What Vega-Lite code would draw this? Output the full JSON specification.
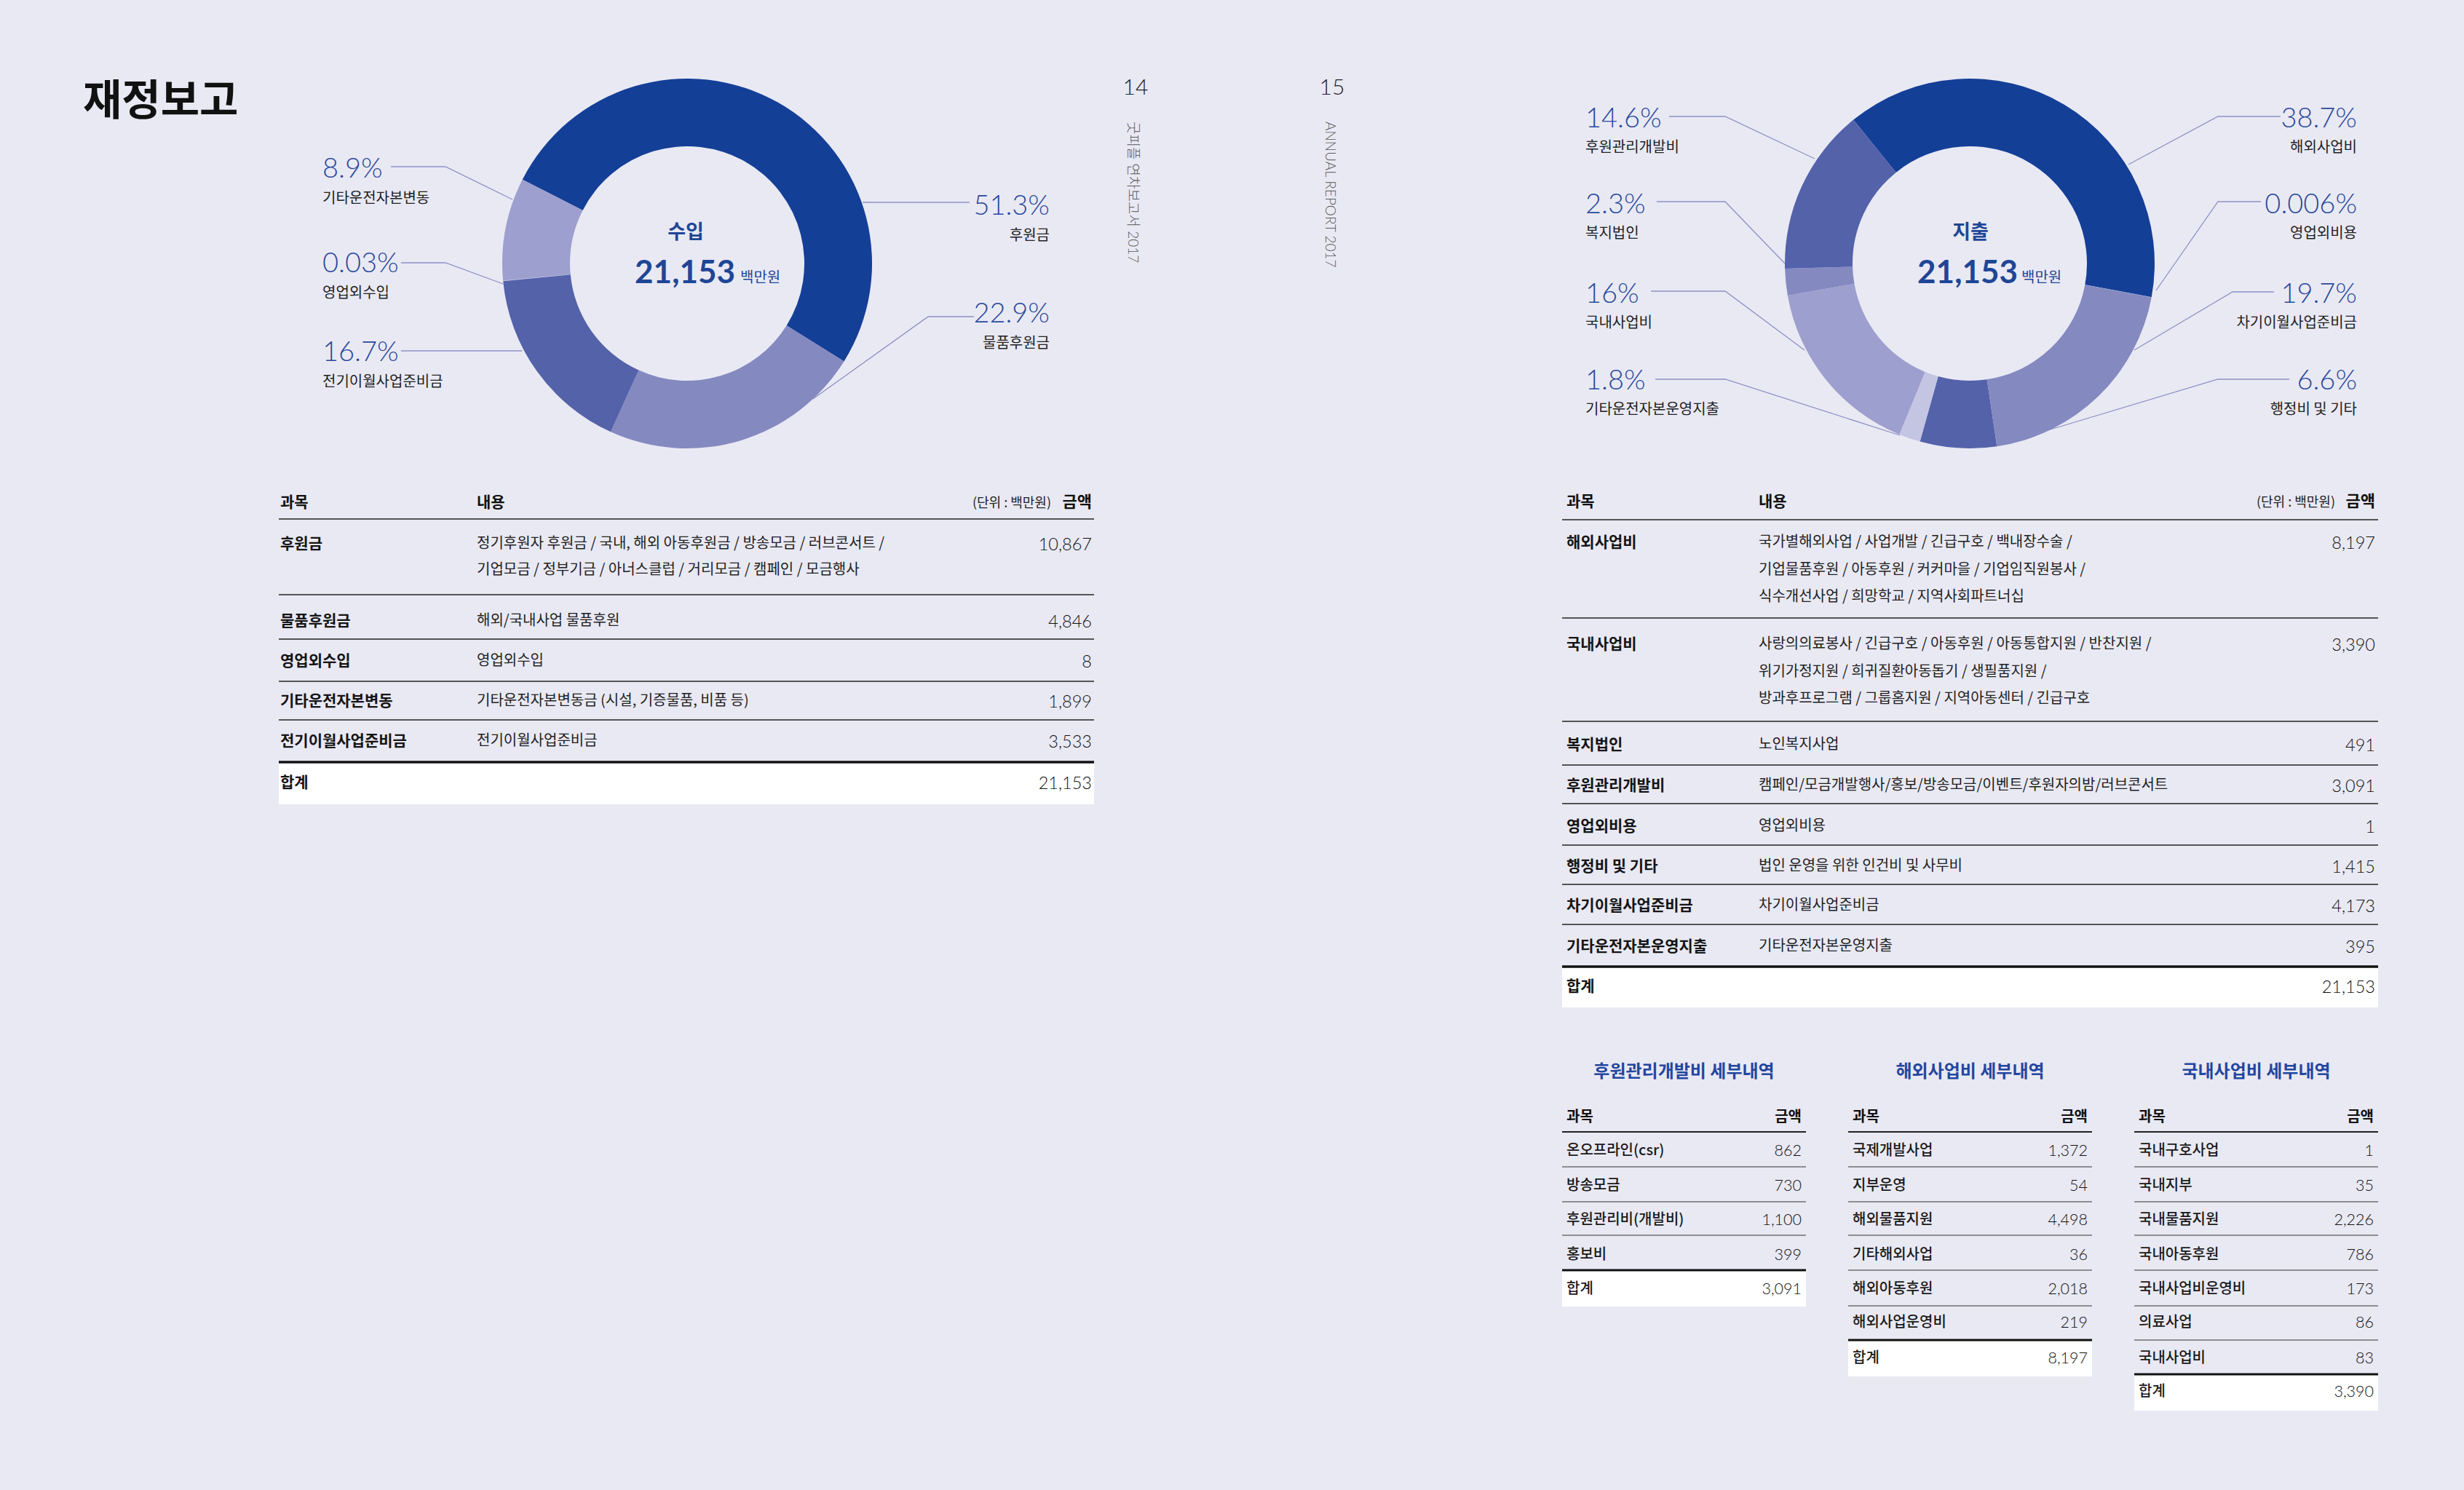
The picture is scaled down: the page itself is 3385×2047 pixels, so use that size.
{
  "$schema": "https://vega.github.io/schema/vega-lite/v6.json",
  "width": 3385,
  "height": 2047,
  "autosize": {"type": "fit", "contains": "padding"},
  "padding": 0,
  "background": "#e9e9f4",
  "config": {"view": {"stroke": null}, "text": {"font": "Noto Sans CJK KR", "baseline": "alphabetic"}},
  "datasets": {
    "page": [
      {"n": 1, "part": "title", "text": "재정보고"},
      {"n": 2, "part": "folio", "text": "14"},
      {"n": 3, "part": "folio", "text": "15"},
      {"n": 4, "part": "running", "text": "굿피플 연차보고서 2017"},
      {"n": 5, "part": "running", "text": "ANNUAL REPORT 2017"}
    ],
    "income": [
      {"row": 1, "ring": 1, "item": "후원금", "pct": "51.3%", "content": "정기후원자 후원금 / 국내, 해외 아동후원금 / 방송모금 / 러브콘서트 /\n기업모금 / 정부기금 / 아너스클럽 / 거리모금 / 캠페인 / 모금행사", "amount": 10867},
      {"row": 2, "ring": 2, "item": "물품후원금", "pct": "22.9%", "content": "해외/국내사업 물품후원", "amount": 4846},
      {"row": 3, "ring": 4, "item": "영업외수입", "pct": "0.03%", "content": "영업외수입", "amount": 8},
      {"row": 4, "ring": 5, "item": "기타운전자본변동", "pct": "8.9%", "content": "기타운전자본변동금 (시설, 기증물품, 비품 등)", "amount": 1899},
      {"row": 5, "ring": 3, "item": "전기이월사업준비금", "pct": "16.7%", "content": "전기이월사업준비금", "amount": 3533},
      {"row": 6, "item": "합계", "content": "", "amount": 21153}
    ],
    "expense": [
      {"row": 1, "ring": 1, "item": "해외사업비", "pct": "38.7%", "content": "국가별해외사업 / 사업개발 / 긴급구호 / 백내장수술 /\n기업물품후원 / 아동후원 / 커커마을 / 기업임직원봉사 /\n식수개선사업 / 희망학교 / 지역사회파트너십", "amount": 8197},
      {"row": 2, "ring": 6, "item": "국내사업비", "pct": "16%", "content": "사랑의의료봉사 / 긴급구호 / 아동후원 / 아동통합지원 / 반찬지원 /\n위기가정지원 / 희귀질환아동돕기 / 생필품지원 /\n방과후프로그램 / 그룹홈지원 / 지역아동센터 / 긴급구호", "amount": 3390},
      {"row": 3, "ring": 7, "item": "복지법인", "pct": "2.3%", "content": "노인복지사업", "amount": 491},
      {"row": 4, "ring": 8, "item": "후원관리개발비", "pct": "14.6%", "content": "캠페인/모금개발행사/홍보/방송모금/이벤트/후원자의밤/러브콘서트", "amount": 3091},
      {"row": 5, "ring": 2, "item": "영업외비용", "pct": "0.006%", "content": "영업외비용", "amount": 1},
      {"row": 6, "ring": 4, "item": "행정비 및 기타", "pct": "6.6%", "content": "법인 운영을 위한 인건비 및 사무비", "amount": 1415},
      {"row": 7, "ring": 3, "item": "차기이월사업준비금", "pct": "19.7%", "content": "차기이월사업준비금", "amount": 4173},
      {"row": 8, "ring": 5, "item": "기타운전자본운영지출", "pct": "1.8%", "content": "기타운전자본운영지출", "amount": 395},
      {"row": 9, "item": "합계", "content": "", "amount": 21153}
    ],
    "heads": [
      {"tbl": "수입", "col": 1, "label": "과목"},
      {"tbl": "수입", "col": 2, "label": "내용"},
      {"tbl": "수입", "col": 3, "label": "(단위 : 백만원)"},
      {"tbl": "수입", "col": 4, "label": "금액"},
      {"tbl": "지출", "col": 1, "label": "과목"},
      {"tbl": "지출", "col": 2, "label": "내용"},
      {"tbl": "지출", "col": 3, "label": "(단위 : 백만원)"},
      {"tbl": "지출", "col": 4, "label": "금액"}
    ],
    "detailTitles": [
      {"group": "후원관리개발비", "title": "후원관리개발비 세부내역"},
      {"group": "해외사업비", "title": "해외사업비 세부내역"},
      {"group": "국내사업비", "title": "국내사업비 세부내역"}
    ],
    "detail": [
      {"group": "후원관리개발비", "row": 1, "item": "온오프라인(csr)", "amount": 862},
      {"group": "후원관리개발비", "row": 2, "item": "방송모금", "amount": 730},
      {"group": "후원관리개발비", "row": 3, "item": "후원관리비(개발비)", "amount": 1100},
      {"group": "후원관리개발비", "row": 4, "item": "홍보비", "amount": 399},
      {"group": "후원관리개발비", "row": 5, "item": "합계", "amount": 3091},
      {"group": "해외사업비", "row": 1, "item": "국제개발사업", "amount": 1372},
      {"group": "해외사업비", "row": 2, "item": "지부운영", "amount": 54},
      {"group": "해외사업비", "row": 3, "item": "해외물품지원", "amount": 4498},
      {"group": "해외사업비", "row": 4, "item": "기타해외사업", "amount": 36},
      {"group": "해외사업비", "row": 5, "item": "해외아동후원", "amount": 2018},
      {"group": "해외사업비", "row": 6, "item": "해외사업운영비", "amount": 219},
      {"group": "해외사업비", "row": 7, "item": "합계", "amount": 8197},
      {"group": "국내사업비", "row": 1, "item": "국내구호사업", "amount": 1},
      {"group": "국내사업비", "row": 2, "item": "국내지부", "amount": 35},
      {"group": "국내사업비", "row": 3, "item": "국내물품지원", "amount": 2226},
      {"group": "국내사업비", "row": 4, "item": "국내아동후원", "amount": 786},
      {"group": "국내사업비", "row": 5, "item": "국내사업비운영비", "amount": 173},
      {"group": "국내사업비", "row": 6, "item": "의료사업", "amount": 86},
      {"group": "국내사업비", "row": 7, "item": "국내사업비", "amount": 83},
      {"group": "국내사업비", "row": 8, "item": "합계", "amount": 3390}
    ],
    "leaders": [
      {"vertex": 1, "item": "후원금"}, {"vertex": 2, "item": "후원금"},
      {"vertex": 3, "item": "물품후원금"}, {"vertex": 4, "item": "물품후원금"}, {"vertex": 5, "item": "물품후원금"},
      {"vertex": 6, "item": "전기이월사업준비금"}, {"vertex": 7, "item": "전기이월사업준비금"},
      {"vertex": 8, "item": "영업외수입"}, {"vertex": 9, "item": "영업외수입"}, {"vertex": 10, "item": "영업외수입"},
      {"vertex": 11, "item": "기타운전자본변동"}, {"vertex": 12, "item": "기타운전자본변동"}, {"vertex": 13, "item": "기타운전자본변동"},
      {"vertex": 14, "item": "해외사업비"}, {"vertex": 15, "item": "해외사업비"}, {"vertex": 16, "item": "해외사업비"},
      {"vertex": 17, "item": "영업외비용"}, {"vertex": 18, "item": "영업외비용"}, {"vertex": 19, "item": "영업외비용"},
      {"vertex": 20, "item": "차기이월사업준비금"}, {"vertex": 21, "item": "차기이월사업준비금"}, {"vertex": 22, "item": "차기이월사업준비금"},
      {"vertex": 23, "item": "행정비 및 기타"}, {"vertex": 24, "item": "행정비 및 기타"}, {"vertex": 25, "item": "행정비 및 기타"},
      {"vertex": 26, "item": "기타운전자본운영지출"}, {"vertex": 27, "item": "기타운전자본운영지출"}, {"vertex": 28, "item": "기타운전자본운영지출"},
      {"vertex": 29, "item": "국내사업비"}, {"vertex": 30, "item": "국내사업비"}, {"vertex": 31, "item": "국내사업비"},
      {"vertex": 32, "item": "복지법인"}, {"vertex": 33, "item": "복지법인"}, {"vertex": 34, "item": "복지법인"},
      {"vertex": 35, "item": "후원관리개발비"}, {"vertex": 36, "item": "후원관리개발비"}, {"vertex": 37, "item": "후원관리개발비"}
    ]
  },
  "layer": [
    {
      "data": {"name": "page"},
      "encoding": {
        "x": {"field": "n", "type": "quantitative", "axis": null, "scale": {"domain": [1, 2, 3, 4, 5], "range": [114, 1560, 1830, 1556, 1827], "zero": false, "nice": false}},
        "y": {"field": "n", "type": "quantitative", "axis": null, "scale": {"domain": [1, 2, 3, 4, 5], "range": [158, 130, 130, 167, 167], "zero": false, "nice": false}},
        "text": {"field": "text"}
      },
      "layer": [
        {"transform": [{"filter": "datum.part === 'title'"}], "mark": {"type": "text", "align": "left", "baseline": "alphabetic", "fontSize": 58, "fontWeight": 700, "color": "#111111"}},
        {"transform": [{"filter": "datum.part === 'folio'"}], "mark": {"type": "text", "align": "center", "baseline": "alphabetic", "font": "Lato", "fontSize": 30, "fontWeight": 300, "color": "#222222"}},
        {"transform": [{"filter": "datum.part === 'running'"}], "mark": {"type": "text", "align": "left", "baseline": "middle", "angle": 90, "font": "Lato, Noto Sans CJK KR", "fontSize": 19, "fontWeight": 300, "color": "#5a5a5a"}}
      ]
    },
    {
      "data": {"name": "income"},
      "transform": [{"filter": "datum.ring > 0"}],
      "mark": {"type": "arc", "innerRadius": 161, "outerRadius": 254},
      "encoding": {
        "x": {"datum": "수입", "type": "nominal", "axis": null, "scale": {"domain": ["수입", "지출"], "range": [944, 2706], "padding": 0}},
        "y": {"datum": "수입", "type": "nominal", "axis": null, "scale": {"domain": ["수입", "지출"], "range": [362, 362], "padding": 0}},
        "theta": {"field": "amount", "type": "quantitative", "stack": true, "scale": {"range": [5.1836, 11.4668]}},
        "order": {"field": "ring", "type": "quantitative"},
        "color": {"field": "item", "type": "nominal", "legend": null, "scale": {"domain": ["후원금", "물품후원금", "전기이월사업준비금", "영업외수입", "기타운전자본변동"], "range": ["#143f97", "#8489c0", "#5462aa", "#c4c5e3", "#9d9fcf"]}}
      }
    },
    {
      "data": {"name": "expense"},
      "transform": [{"filter": "datum.ring > 0"}],
      "mark": {"type": "arc", "innerRadius": 161, "outerRadius": 254},
      "encoding": {
        "x": {"datum": "지출", "type": "nominal", "axis": null, "scale": {"domain": ["수입", "지출"], "range": [944, 2706], "padding": 0}},
        "y": {"datum": "지출", "type": "nominal", "axis": null, "scale": {"domain": ["수입", "지출"], "range": [362, 362], "padding": 0}},
        "theta": {"field": "amount", "type": "quantitative", "stack": true, "scale": {"range": [5.6025, 11.8857]}},
        "order": {"field": "ring", "type": "quantitative"},
        "color": {"field": "item", "type": "nominal", "legend": null, "scale": {"domain": ["해외사업비", "영업외비용", "차기이월사업준비금", "행정비 및 기타", "기타운전자본운영지출", "국내사업비", "복지법인", "후원관리개발비"], "range": ["#143f97", "#c4c5e3", "#8489c0", "#5462aa", "#c4c5e3", "#9d9fcf", "#8489c0", "#5462aa"]}}
      }
    },
    {
      "data": {"name": "leaders"},
      "mark": {"type": "line", "color": "#8e90c3", "strokeWidth": 1.3},
      "encoding": {
        "x": {"field": "vertex", "type": "quantitative", "axis": null, "scale": {"domain": [1, 2, 3, 4, 5, 6, 7, 8, 9, 10, 11, 12, 13, 14, 15, 16, 17, 18, 19, 20, 21, 22, 23, 24, 25, 26, 27, 28, 29, 30, 31, 32, 33, 34, 35, 36, 37], "range": [1332, 1185, 1338, 1275, 1117, 551, 717, 551, 612, 691, 537, 612, 704, 3133, 3047, 2924, 3106, 3047, 2962, 3124, 3067, 2932, 3145, 3047, 2797, 2274, 2370, 2610, 2268, 2370, 2479, 2276, 2370, 2452, 2293, 2370, 2493], "zero": false, "nice": false}},
        "y": {"field": "vertex", "type": "quantitative", "axis": null, "scale": {"domain": [1, 2, 3, 4, 5, 6, 7, 8, 9, 10, 11, 12, 13, 14, 15, 16, 17, 18, 19, 20, 21, 22, 23, 24, 25, 26, 27, 28, 29, 30, 31, 32, 33, 34, 35, 36, 37], "range": [278, 278, 435, 435, 548, 482, 482, 361, 361, 390, 229, 229, 274, 160, 160, 226, 277, 277, 399, 401, 401, 481, 521, 521, 596, 521, 521, 598, 400, 400, 481, 277, 277, 362, 160, 160, 218], "zero": false, "nice": false}},
        "detail": {"field": "item"},
        "order": {"field": "vertex", "type": "quantitative"}
      }
    },
    {
      "data": {"name": "income"},
      "transform": [{"filter": "datum.item === '합계'"}],
      "encoding": {
        "x": {"datum": "수입", "type": "nominal", "axis": null, "scale": {"domain": ["수입", "지출"], "range": [944, 2706], "padding": 0}},
        "y": {"datum": "수입", "type": "nominal", "axis": null, "scale": {"domain": ["수입", "지출"], "range": [362, 362], "padding": 0}}
      },
      "layer": [
        {"mark": {"type": "text", "align": "center", "baseline": "alphabetic", "dx": -2, "dy": -34, "fontSize": 27, "fontWeight": 700, "color": "#1f4696"}, "encoding": {"text": {"value": "수입"}}},
        {"mark": {"type": "text", "align": "right", "baseline": "alphabetic", "dx": 66, "dy": 27, "font": "Lato", "fontSize": 44, "fontWeight": 700, "color": "#1f4696"}, "encoding": {"text": {"field": "amount", "type": "quantitative", "format": ","}}},
        {"mark": {"type": "text", "align": "left", "baseline": "alphabetic", "dx": 73, "dy": 26, "fontSize": 20, "color": "#1f4696"}, "encoding": {"text": {"value": "백만원"}}}
      ]
    },
    {
      "data": {"name": "expense"},
      "transform": [{"filter": "datum.item === '합계'"}],
      "encoding": {
        "x": {"datum": "지출", "type": "nominal", "axis": null, "scale": {"domain": ["수입", "지출"], "range": [944, 2706], "padding": 0}},
        "y": {"datum": "지출", "type": "nominal", "axis": null, "scale": {"domain": ["수입", "지출"], "range": [362, 362], "padding": 0}}
      },
      "layer": [
        {"mark": {"type": "text", "align": "center", "baseline": "alphabetic", "dx": 1, "dy": -34, "fontSize": 27, "fontWeight": 700, "color": "#1f4696"}, "encoding": {"text": {"value": "지출"}}},
        {"mark": {"type": "text", "align": "right", "baseline": "alphabetic", "dx": 66, "dy": 27, "font": "Lato", "fontSize": 44, "fontWeight": 700, "color": "#1f4696"}, "encoding": {"text": {"field": "amount", "type": "quantitative", "format": ","}}},
        {"mark": {"type": "text", "align": "left", "baseline": "alphabetic", "dx": 71, "dy": 26, "fontSize": 20, "color": "#1f4696"}, "encoding": {"text": {"value": "백만원"}}}
      ]
    },
    {
      "data": {"name": "income"},
      "transform": [{"filter": "datum.ring > 0"}],
      "encoding": {
        "x": {"field": "ring", "type": "quantitative", "axis": null, "scale": {"domain": [1, 2, 3, 4, 5], "range": [1442, 1442, 443, 443, 443], "zero": false, "nice": false}},
        "y": {"field": "ring", "type": "quantitative", "axis": null, "scale": {"domain": [1, 2, 3, 4, 5], "range": [295, 443, 496, 374, 244], "zero": false, "nice": false}}
      },
      "layer": [
        {"transform": [{"filter": "datum.ring <= 2"}], "mark": {"type": "text", "align": "right", "baseline": "alphabetic", "font": "Lato", "fontWeight": 300, "fontSize": 38, "color": "#2b4a9c"}, "encoding": {"text": {"field": "pct"}}},
        {"transform": [{"filter": "datum.ring > 2"}], "mark": {"type": "text", "align": "left", "baseline": "alphabetic", "font": "Lato", "fontWeight": 300, "fontSize": 38, "color": "#2b4a9c"}, "encoding": {"text": {"field": "pct"}}},
        {"transform": [{"filter": "datum.ring <= 2"}], "mark": {"type": "text", "align": "right", "baseline": "alphabetic", "dy": 35, "fontSize": 20, "color": "#222222"}, "encoding": {"text": {"field": "item"}}},
        {"transform": [{"filter": "datum.ring > 2"}], "mark": {"type": "text", "align": "left", "baseline": "alphabetic", "dy": 35, "fontSize": 20, "color": "#222222"}, "encoding": {"text": {"field": "item"}}}
      ]
    },
    {
      "data": {"name": "expense"},
      "transform": [{"filter": "datum.ring > 0"}],
      "encoding": {
        "x": {"field": "ring", "type": "quantitative", "axis": null, "scale": {"domain": [1, 2, 3, 4, 5, 6, 7, 8], "range": [3238, 3238, 3238, 3238, 2178, 2178, 2178, 2178], "zero": false, "nice": false}},
        "y": {"field": "ring", "type": "quantitative", "axis": null, "scale": {"domain": [1, 2, 3, 4, 5, 6, 7, 8], "range": [175, 293, 416, 535, 535, 416, 293, 175], "zero": false, "nice": false}}
      },
      "layer": [
        {"transform": [{"filter": "datum.ring <= 4"}], "mark": {"type": "text", "align": "right", "baseline": "alphabetic", "font": "Lato", "fontWeight": 300, "fontSize": 38, "color": "#2b4a9c"}, "encoding": {"text": {"field": "pct"}}},
        {"transform": [{"filter": "datum.ring > 4"}], "mark": {"type": "text", "align": "left", "baseline": "alphabetic", "font": "Lato", "fontWeight": 300, "fontSize": 38, "color": "#2b4a9c"}, "encoding": {"text": {"field": "pct"}}},
        {"transform": [{"filter": "datum.ring <= 4"}], "mark": {"type": "text", "align": "right", "baseline": "alphabetic", "dy": 34, "fontSize": 20, "color": "#222222"}, "encoding": {"text": {"field": "item"}}},
        {"transform": [{"filter": "datum.ring > 4"}], "mark": {"type": "text", "align": "left", "baseline": "alphabetic", "dy": 34, "fontSize": 20, "color": "#222222"}, "encoding": {"text": {"field": "item"}}}
      ]
    },
    {
      "data": {"name": "income"},
      "encoding": {
        "x": {"datum": 0, "type": "quantitative", "axis": null, "scale": {"domain": [0, 1, 2, 3, 4, 5], "range": [383, 385, 655, 1444, 1500, 1503], "zero": false, "nice": false}},
        "x2": {"datum": 5},
        "y": {"field": "row", "type": "quantitative", "axis": null, "scale": {"domain": [1, 2, 3, 4, 5, 6, 7], "range": [713, 817, 878, 936, 989, 1047, 1105], "zero": false, "nice": false}}
      },
      "layer": [
        {"transform": [{"filter": "datum.item === '합계'"}], "mark": {"type": "rect", "color": "#ffffff"}, "encoding": {"y2": {"datum": 7}}},
        {"transform": [{"filter": "datum.item !== '합계'"}], "mark": {"type": "rule", "color": "#222222", "strokeWidth": 1.4}},
        {"transform": [{"filter": "datum.item === '합계'"}], "mark": {"type": "rule", "color": "#111111", "strokeWidth": 3.5}}
      ]
    },
    {
      "data": {"name": "income"},
      "encoding": {
        "y": {"field": "row", "type": "quantitative", "axis": null, "scale": {"domain": [0, 1, 2, 3, 4, 5, 6], "range": [680, 737, 843, 898, 953, 1008, 1065], "zero": false, "nice": false}}
      },
      "layer": [
        {"mark": {"type": "text", "align": "left", "baseline": "top", "fontSize": 21, "fontWeight": 700, "color": "#151515"},
         "encoding": {"x": {"datum": 1, "type": "quantitative", "axis": null, "scale": {"domain": [0, 1, 2, 3, 4, 5], "range": [383, 385, 655, 1444, 1500, 1503], "zero": false, "nice": false}}, "text": {"field": "item"}}},
        {"mark": {"type": "text", "align": "left", "baseline": "top", "fontSize": 20, "lineBreak": "\n", "lineHeight": 36, "color": "#222222"},
         "encoding": {"x": {"datum": 2, "type": "quantitative", "axis": null, "scale": {"domain": [0, 1, 2, 3, 4, 5], "range": [383, 385, 655, 1444, 1500, 1503], "zero": false, "nice": false}}, "text": {"field": "content"}}},
        {"mark": {"type": "text", "align": "right", "baseline": "top", "font": "Lato", "fontWeight": 300, "fontSize": 23.5, "color": "#111111"},
         "encoding": {"x": {"datum": 4, "type": "quantitative", "axis": null, "scale": {"domain": [0, 1, 2, 3, 4, 5], "range": [383, 385, 655, 1444, 1500, 1503], "zero": false, "nice": false}}, "text": {"field": "amount", "type": "quantitative", "format": ","}}}
      ]
    },
    {
      "data": {"name": "heads"},
      "transform": [{"filter": "datum.tbl === '수입'"}],
      "encoding": {
        "x": {"field": "col", "type": "quantitative", "axis": null, "scale": {"domain": [0, 1, 2, 3, 4, 5], "range": [383, 385, 655, 1444, 1500, 1503], "zero": false, "nice": false}},
        "y": {"datum": 0, "type": "quantitative", "axis": null, "scale": {"domain": [0, 1], "range": [680, 737], "zero": false, "nice": false}},
        "text": {"field": "label"}
      },
      "layer": [
        {"transform": [{"filter": "datum.col <= 2"}], "mark": {"type": "text", "align": "left", "baseline": "top", "fontSize": 21, "fontWeight": 700, "color": "#111111"}},
        {"transform": [{"filter": "datum.col === 3"}], "mark": {"type": "text", "align": "right", "baseline": "top", "dy": 3, "fontSize": 18, "color": "#222222"}},
        {"transform": [{"filter": "datum.col === 4"}], "mark": {"type": "text", "align": "right", "baseline": "top", "fontSize": 22, "fontWeight": 700, "color": "#111111"}}
      ]
    },
    {
      "data": {"name": "expense"},
      "encoding": {
        "x": {"datum": 0, "type": "quantitative", "axis": null, "scale": {"domain": [0, 1, 2, 3, 4, 5], "range": [2146, 2152, 2416, 3208, 3263, 3267], "zero": false, "nice": false}},
        "x2": {"datum": 5},
        "y": {"field": "row", "type": "quantitative", "axis": null, "scale": {"domain": [1, 2, 3, 4, 5, 6, 7, 8, 9, 10], "range": [714, 849, 991, 1051, 1104, 1161, 1215, 1270, 1328, 1384], "zero": false, "nice": false}}
      },
      "layer": [
        {"transform": [{"filter": "datum.item === '합계'"}], "mark": {"type": "rect", "color": "#ffffff"}, "encoding": {"y2": {"datum": 10}}},
        {"transform": [{"filter": "datum.item !== '합계'"}], "mark": {"type": "rule", "color": "#222222", "strokeWidth": 1.4}},
        {"transform": [{"filter": "datum.item === '합계'"}], "mark": {"type": "rule", "color": "#111111", "strokeWidth": 3.5}}
      ]
    },
    {
      "data": {"name": "expense"},
      "encoding": {
        "y": {"field": "row", "type": "quantitative", "axis": null, "scale": {"domain": [0, 1, 2, 3, 4, 5, 6, 7, 8, 9], "range": [679, 735, 875, 1013, 1069, 1125, 1180, 1234, 1290, 1345], "zero": false, "nice": false}}
      },
      "layer": [
        {"mark": {"type": "text", "align": "left", "baseline": "top", "fontSize": 21, "fontWeight": 700, "color": "#151515"},
         "encoding": {"x": {"datum": 1, "type": "quantitative", "axis": null, "scale": {"domain": [0, 1, 2, 3, 4, 5], "range": [2146, 2152, 2416, 3208, 3263, 3267], "zero": false, "nice": false}}, "text": {"field": "item"}}},
        {"mark": {"type": "text", "align": "left", "baseline": "top", "fontSize": 20, "lineBreak": "\n", "lineHeight": 37.5, "color": "#222222"},
         "encoding": {"x": {"datum": 2, "type": "quantitative", "axis": null, "scale": {"domain": [0, 1, 2, 3, 4, 5], "range": [2146, 2152, 2416, 3208, 3263, 3267], "zero": false, "nice": false}}, "text": {"field": "content"}}},
        {"mark": {"type": "text", "align": "right", "baseline": "top", "font": "Lato", "fontWeight": 300, "fontSize": 23.5, "color": "#111111"},
         "encoding": {"x": {"datum": 4, "type": "quantitative", "axis": null, "scale": {"domain": [0, 1, 2, 3, 4, 5], "range": [2146, 2152, 2416, 3208, 3263, 3267], "zero": false, "nice": false}}, "text": {"field": "amount", "type": "quantitative", "format": ","}}}
      ]
    },
    {
      "data": {"name": "heads"},
      "transform": [{"filter": "datum.tbl === '지출'"}],
      "encoding": {
        "x": {"field": "col", "type": "quantitative", "axis": null, "scale": {"domain": [0, 1, 2, 3, 4, 5], "range": [2146, 2152, 2416, 3208, 3263, 3267], "zero": false, "nice": false}},
        "y": {"datum": 0, "type": "quantitative", "axis": null, "scale": {"domain": [0, 1], "range": [679, 735], "zero": false, "nice": false}},
        "text": {"field": "label"}
      },
      "layer": [
        {"transform": [{"filter": "datum.col <= 2"}], "mark": {"type": "text", "align": "left", "baseline": "top", "fontSize": 21, "fontWeight": 700, "color": "#111111"}},
        {"transform": [{"filter": "datum.col === 3"}], "mark": {"type": "text", "align": "right", "baseline": "top", "dy": 3, "fontSize": 18, "color": "#222222"}},
        {"transform": [{"filter": "datum.col === 4"}], "mark": {"type": "text", "align": "right", "baseline": "top", "fontSize": 22, "fontWeight": 700, "color": "#111111"}}
      ]
    },
    {
      "data": {"name": "detail"},
      "encoding": {
        "x": {"field": "group", "type": "nominal", "axis": null, "scale": {"domain": ["후원관리개발비", "해외사업비", "국내사업비"], "range": [2146, 3267], "paddingInner": 0.1476, "paddingOuter": 0}},
        "y": {"field": "row", "type": "quantitative", "axis": null, "scale": {"domain": [1, 2, 3, 4, 5, 6, 7, 8], "range": [1555, 1603, 1651, 1697, 1745, 1794, 1841, 1888], "zero": false, "nice": false}}
      },
      "layer": [
        {"transform": [{"filter": "datum.item === '합계'"}], "mark": {"type": "tick", "color": "#ffffff", "opacity": 1, "size": 335, "thickness": 50, "yOffset": 25}},
        {"transform": [{"filter": "datum.row === 1"}], "mark": {"type": "tick", "color": "#222222", "opacity": 1, "size": 335, "thickness": 2}},
        {"transform": [{"filter": "datum.row > 1 && datum.item !== '합계'"}], "mark": {"type": "tick", "color": "#333333", "opacity": 1, "size": 335, "thickness": 1.2}},
        {"transform": [{"filter": "datum.item === '합계'"}], "mark": {"type": "tick", "color": "#111111", "opacity": 1, "size": 335, "thickness": 3.2}}
      ]
    },
    {
      "data": {"name": "detail"},
      "encoding": {
        "x": {"field": "group", "type": "nominal", "axis": null, "scale": {"type": "point", "domain": ["후원관리개발비", "해외사업비", "국내사업비"], "range": [2313.5, 3099.5], "padding": 0}},
        "y": {"field": "row", "type": "quantitative", "axis": null, "scale": {"domain": [0, 1, 2, 3, 4, 5, 6, 7, 8], "range": [1525, 1571, 1619, 1666, 1714, 1761, 1807, 1856, 1902], "zero": false, "nice": false}}
      },
      "layer": [
        {"mark": {"type": "text", "align": "left", "baseline": "top", "dx": -161.5, "fontSize": 20, "fontWeight": 500, "color": "#1a1a1a"},
         "encoding": {"text": {"field": "item"}}},
        {"mark": {"type": "text", "align": "right", "baseline": "top", "dx": 161.5, "font": "Lato", "fontWeight": 300, "fontSize": 21.5, "color": "#111111"},
         "encoding": {"text": {"field": "amount", "type": "quantitative", "format": ","}}},
        {"transform": [{"filter": "datum.row === 1"}], "mark": {"type": "text", "align": "left", "baseline": "top", "dx": -161.5, "fontSize": 20, "fontWeight": 700, "color": "#111111"},
         "encoding": {"y": {"datum": 0, "type": "quantitative"}, "text": {"value": "과목"}}},
        {"transform": [{"filter": "datum.row === 1"}], "mark": {"type": "text", "align": "right", "baseline": "top", "dx": 161.5, "fontSize": 20, "fontWeight": 700, "color": "#111111"},
         "encoding": {"y": {"datum": 0, "type": "quantitative"}, "text": {"value": "금액"}}}
      ]
    },
    {
      "data": {"name": "detailTitles"},
      "mark": {"type": "text", "align": "center", "baseline": "top", "fontSize": 24, "fontWeight": 700, "color": "#2446a0"},
      "encoding": {
        "x": {"field": "group", "type": "nominal", "axis": null, "scale": {"type": "point", "domain": ["후원관리개발비", "해외사업비", "국내사업비"], "range": [2313.5, 3099.5], "padding": 0}},
        "y": {"datum": 0, "type": "quantitative", "axis": null, "scale": {"domain": [0, 1], "range": [1461, 1525], "zero": false, "nice": false}},
        "text": {"field": "title"}
      }
    }
  ],
  "resolve": {"scale": {"x": "independent", "y": "independent", "theta": "independent", "color": "independent"}}
}
